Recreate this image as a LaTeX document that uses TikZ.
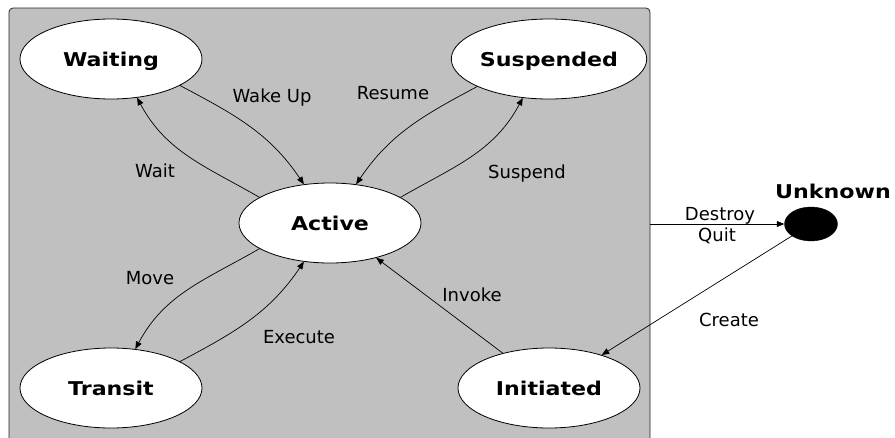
\documentclass[tikz,border=0pt]{standalone}
\usepackage{fontspec}
\setmainfont{DejaVu Sans}
\usetikzlibrary{arrows.meta,shapes.geometric}
\definecolor{panel}{RGB}{192,192,192}
\newcommand{\widetext}[1]{\scalebox{1.165}[1]{#1}}
\tikzset{
  state/.style={ellipse, draw=black, fill=white, line width=0.8pt,
    minimum width=182pt, minimum height=80pt, inner sep=0pt,
    text height=14pt, text depth=0pt,
    font=\fontsize{19}{19}\selectfont\bfseries},
  flow/.style={draw=black, line width=0.7pt, -{Triangle[length=7.5pt,width=6pt]}},
  lbl/.style={anchor=base, inner sep=0pt, font=\fontsize{18}{18}\selectfont},
}
\begin{document}
\begin{tikzpicture}[x=1pt,y=1pt]
  \useasboundingbox (0,0) rectangle (895,-437);
  \clip (0,0) rectangle (895,-437);

  % grey container of the managed states
  \draw[fill=panel, draw=black!85, line width=0.8pt, rounded corners=4pt]
    (9,-8) rectangle (650,-470);

  % states
  \node[state] (nwait)  at (111,-59)  {\widetext{Waiting}};
  \node[state] (nsusp)  at (549,-59)  {\widetext{Suspended}};
  \node[state] (nact)   at (330,-223) {\widetext{Active}};
  \node[state] (ntrans) at (111,-388) {\widetext{Transit}};
  \node[state] (ninit)  at (549,-388) {\widetext{Initiated}};
  \node[ellipse, fill=black, draw=black, minimum width=53pt, minimum height=34pt,
        inner sep=0pt] (nunk) at (811,-224) {};
  \node[anchor=base, inner sep=0pt, font=\fontsize{19}{19}\selectfont\bfseries]
        (unklbl) at (833,-198.5) {\widetext{Unknown}};

  \coordinate (exit) at (650,-224);

  % transitions
  \draw[flow] (nact.160)  to[out=150, in=-62] (nwait.-56);
  \draw[flow] (nwait.-21) to[out=-28, in=124] (nact.124);
  \draw[flow] (nsusp.201) to[out=208, in=56]  (nact.56);
  \draw[flow] (nact.20)   to[out=30,  in=242] (nsusp.236);
  \draw[flow] (nact.200)  to[out=210, in=62]  (ntrans.58);
  \draw[flow] (ntrans.21) to[out=28,  in=236] (nact.236);
  \draw[flow] (ninit) -- (nact);
  \draw[flow] (exit) -- (nunk);
  \draw[flow] (nunk) -- (ninit);

  % transition labels
  \node[lbl] (lwake)    at (272,-102) {Wake Up};
  \node[lbl] (lresume)  at (393,-99)  {Resume};
  \node[lbl] (lwaitt)   at (155,-177) {Wait};
  \node[lbl] (lsuspend) at (527,-178) {Suspend};
  \node[lbl] (lmove)    at (150,-284) {Move};
  \node[lbl] (lexec)    at (299,-343) {Execute};
  \node[lbl] (linvoke)  at (472,-301) {Invoke};
  \node[lbl] (lcreate)  at (729,-326) {Create};
  \node[lbl] (ldestroy) at (720,-220) {Destroy};
  \node[lbl] (lquit)    at (717,-241) {Quit};
\end{tikzpicture}
\end{document}
